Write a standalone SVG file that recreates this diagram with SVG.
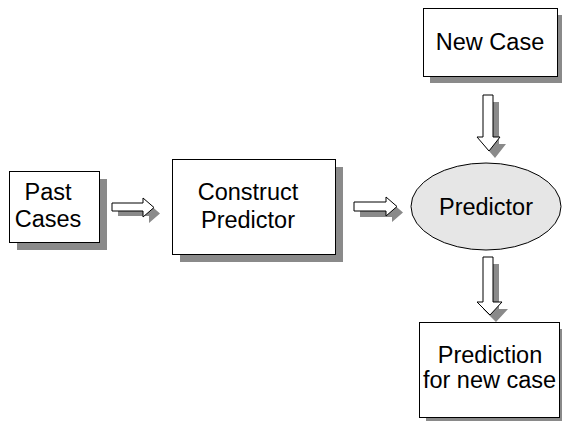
<svg xmlns="http://www.w3.org/2000/svg" width="562" height="422" viewBox="0 0 562 422">
<style>
.box{fill:#fff;stroke:#000;stroke-width:1}
.sh{fill:#8a8a8a;stroke:none}
.arr{fill:#fff;stroke:#000;stroke-width:1;stroke-linejoin:miter}
text{font-family:"Liberation Sans",Arial,sans-serif;font-size:23.5px;fill:#000;text-anchor:middle}
</style>
<rect width="562" height="422" fill="#fff"/>
<g id="connectors">
<g id="arrow-past-construct">
<path class="sh" d="M118,209 H149 V204 L160,213.5 L149,223 V216 H118 Z"/>
<path class="arr" d="M112,203 H143 V198 L154,207.5 L143,217 V211 H112 Z"/>
</g>
<g id="arrow-construct-predictor">
<path class="sh" d="M360,208 H392 V203 L403,212.5 L392,222 V217 H360 Z"/>
<path class="arr" d="M354,202 H386 V197 L397,206.5 L386,216 V211 H354 Z"/>
</g>
<g id="arrow-newcase-predictor">
<path class="sh" d="M489,102 H499 V144 H506 L495,158 L483,144 H489 Z"/>
<path class="arr" d="M483,95 H493 V137 H500 L489,151 L477,137 H483 Z"/>
</g>
<g id="arrow-predictor-prediction">
<path class="sh" d="M489,264 H499 V309 H508 L496,322 L483,309 H489 Z"/>
<path class="arr" d="M483,257 H493 V302 H502 L490,315 L477,302 H483 Z"/>
</g>
</g>
<g id="past-cases">
<rect class="sh" x="17" y="179" width="90" height="71"/>
<rect class="box" x="9.5" y="171.5" width="90" height="71"/>
<text x="48" y="200">Past</text>
<text x="48" y="227">Cases</text>
</g>
<g id="construct-predictor">
<rect class="sh" x="180" y="167" width="163" height="95"/>
<rect class="box" x="172.5" y="159.5" width="163" height="95"/>
<text x="248" y="200">Construct</text>
<text x="248" y="228">Predictor</text>
</g>
<g id="predictor">
<ellipse cx="486" cy="206.5" rx="75" ry="43.5" fill="#e6e6e6" stroke="#000" stroke-width="1"/>
<text x="486" y="215">Predictor</text>
</g>
<g id="new-case">
<rect class="sh" x="430" y="15" width="134" height="68"/>
<rect class="box" x="423.5" y="8.5" width="134" height="68"/>
<text x="490" y="50">New Case</text>
</g>
<g id="prediction">
<rect class="sh" x="426" y="329" width="140" height="92"/>
<rect class="box" x="419.5" y="322.5" width="140" height="95"/>
<text x="490" y="363">Prediction</text>
<text x="489.5" y="388">for new case</text>
</g>
</svg>
